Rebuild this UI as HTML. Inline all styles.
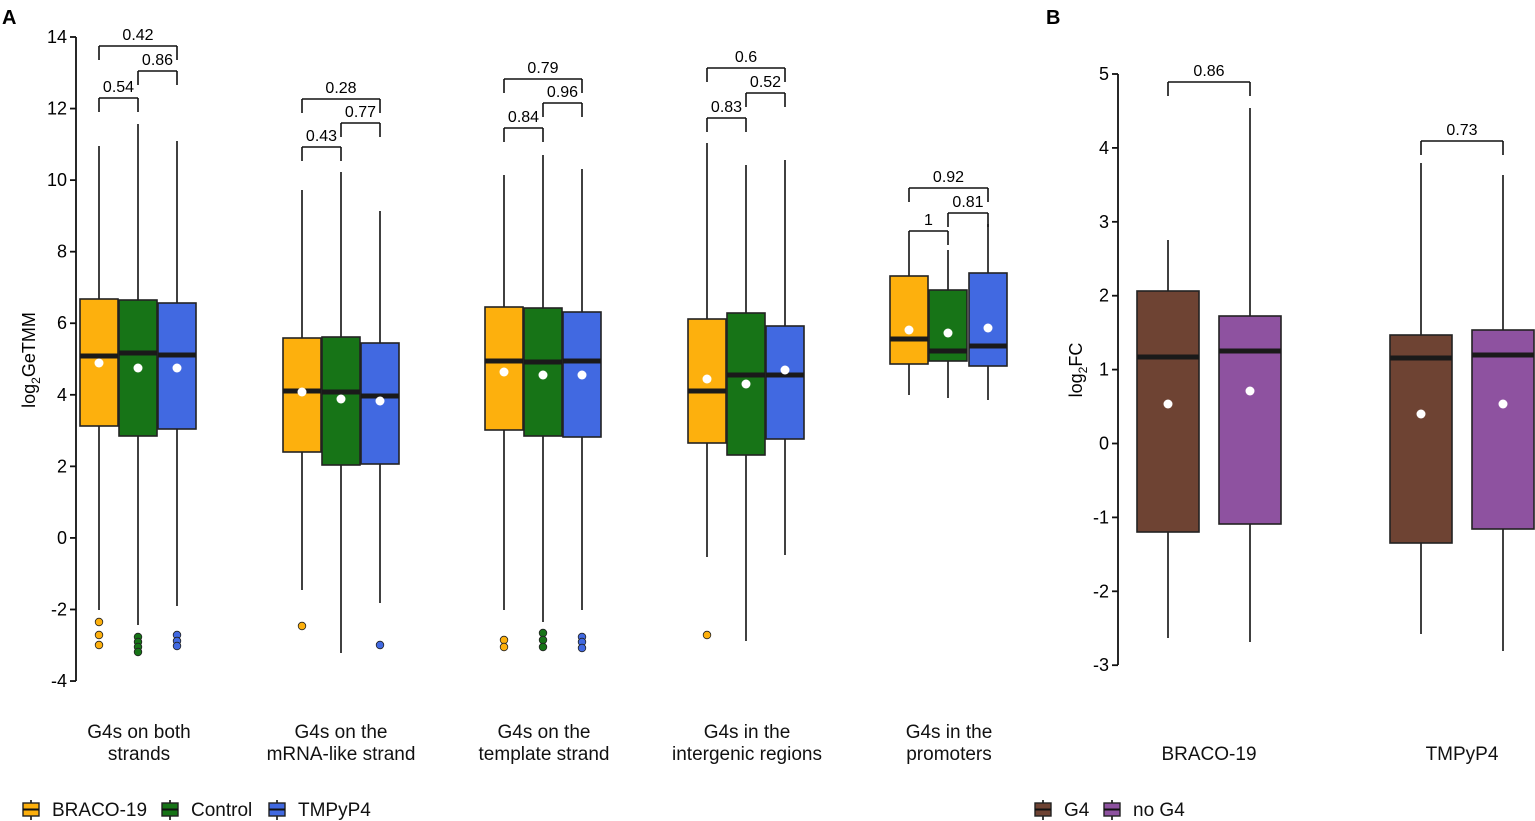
<!DOCTYPE html>
<html><head><meta charset="utf-8"><style>
html,body{margin:0;padding:0;background:#fff;}
svg{display:block;font-family:"Liberation Sans",Arial,sans-serif;}
</style></head><body>
<svg id="s" width="1535" height="821" viewBox="0 0 1535 821" xmlns="http://www.w3.org/2000/svg">
<text x="2" y="24" font-size="20" font-weight="bold">A</text>
<text x="1046" y="24" font-size="20" font-weight="bold">B</text>
<g id="g"></g>
<text transform="translate(35,360) rotate(-90)" font-size="18" text-anchor="middle">log<tspan font-size="12" dy="5">2</tspan><tspan dy="-5">GeTMM</tspan></text>
<text transform="translate(1082,370) rotate(-90)" font-size="18" text-anchor="middle">log<tspan font-size="12" dy="5">2</tspan><tspan dy="-5">FC</tspan></text>
<g font-size="19" text-anchor="middle" fill="#111">
<text x="139" y="738">G4s on both</text><text x="139" y="760">strands</text>
<text x="341" y="738">G4s on the</text><text x="341" y="760">mRNA-like strand</text>
<text x="544" y="738">G4s on the</text><text x="544" y="760">template strand</text>
<text x="747" y="738">G4s in the</text><text x="747" y="760">intergenic regions</text>
<text x="949" y="738">G4s in the</text><text x="949" y="760">promoters</text>
<text x="1209" y="760">BRACO-19</text>
<text x="1462" y="760">TMPyP4</text>
</g>
<g font-size="19" fill="#111">
<text x="52" y="816">BRACO-19</text><text x="191" y="816">Control</text><text x="298" y="816">TMPyP4</text>
<text x="1064" y="816">G4</text><text x="1133" y="816">no G4</text>
</g>
</svg>
<script>
const g=document.getElementById('g');let h='';
const L=(x1,y1,x2,y2,w)=>h+=`<line x1="${x1}" y1="${y1}" x2="${x2}" y2="${y2}" stroke="#111" stroke-width="${w||1.6}"/>`;
const T=(x,y,t,s,a)=>h+=`<text x="${x}" y="${y}" font-size="${s}" text-anchor="${a||'middle'}">${t}</text>`;
L(76,37,76,681,1.8);
for(let v=14;v>=-4;v-=2){const y=37+(14-v)*35.78;L(70,y,76,y,1.8);T(67,y+6,v,18,'end');}
L(1118,74,1118,665,1.8);
for(let v=5;v>=-3;v--){const y=74+(5-v)*73.9;L(1112,y,1118,y,1.8);T(1109,y+6,v,18,'end');}
const O='#fdb00d',G='#177417',B='#4169e1',Br='#6e4333',P='#8e52a0';
function box(c,hw,col,top,bot,med,mean,wt,wb,outs){
 L(c,wt,c,top);L(c,bot,c,wb);
 h+=`<rect x="${c-hw}" y="${top}" width="${2*hw}" height="${bot-top}" fill="${col}" stroke="#222" stroke-width="1.6"/>`;
 h+=`<rect x="${c-hw}" y="${med-2.5}" width="${2*hw}" height="5" fill="#1a1a1a"/>`;
 h+=`<circle cx="${c}" cy="${mean}" r="4.5" fill="#fff"/>`;
 (outs||[]).forEach(o=>h+=`<circle cx="${c}" cy="${o}" r="3.8" fill="${col}" stroke="#222" stroke-width="0.8"/>`);
}
const A=[
[[99,O,299,426,356,363,146,610,[622,635,645]],[138,G,300,436,353,368,124,625,[637,642,647,652]],[177,B,303,429,355,368,141,606,[635,641,646]]],
[[302,O,338,452,391,392,190,590,[626]],[341,G,337,465,392,399,172,653,[]],[380,B,343,464,396,401,211,603,[645]]],
[[504,O,307,430,361,372,175,610,[640,647]],[543,G,308,436,362,375,155,622,[633,640,647]],[582,B,312,437,361,375,169,610,[637,642,648]]],
[[707,O,319,443,391,379,143,557,[635]],[746,G,313,455,375,384,165,641,[]],[785,B,326,439,375,370,160,555,[]]],
[[909,O,276,364,339,330,245,395,[]],[948,G,290,361,351,333,250,398,[]],[988,B,273,366,346,328,224,400,[]]]];
A.forEach(gr=>gr.forEach(b=>box(b[0],19,b[1],b[2],b[3],b[4],b[5],b[6],b[7],b[8])));
box(1168,31,Br,291,532,357,404,240,638);
box(1250,31,P,316,524,351,391,108,642);
box(1421,31,Br,335,543,358,414,163,634);
box(1503,31,P,330,529,355,404,175,651);
function br(x1,x2,y,lab,d){L(x1,y,x2,y);L(x1,y,x1,y+d);L(x2,y,x2,y+d);T((x1+x2)/2,y-6,lab,16);}
const bk=[[[99,177,46,'0.42'],[138,177,71,'0.86'],[99,138,98,'0.54']],
[[302,380,99,'0.28'],[341,380,123,'0.77'],[302,341,147,'0.43']],
[[504,582,79,'0.79'],[543,582,103,'0.96'],[504,543,128,'0.84']],
[[707,785,68,'0.6'],[746,785,93,'0.52'],[707,746,118,'0.83']],
[[909,988,188,'0.92'],[948,988,213,'0.81'],[909,948,231,'1']]];
bk.forEach(gr=>gr.forEach(b=>br(b[0],b[1],b[2],b[3],14)));
br(1168,1250,82,'0.86',14);br(1421,1503,141,'0.73',14);
function key(x,col){L(x,800,x,820);h+=`<rect x="${x-8}" y="803" width="16" height="13" fill="${col}" stroke="#222" stroke-width="1.4"/>`;L(x-8,809.5,x+8,809.5,2);}
key(31,O);key(170,G);key(277,B);key(1043,Br);key(1112,P);
g.innerHTML=h;
</script>
</body></html>
